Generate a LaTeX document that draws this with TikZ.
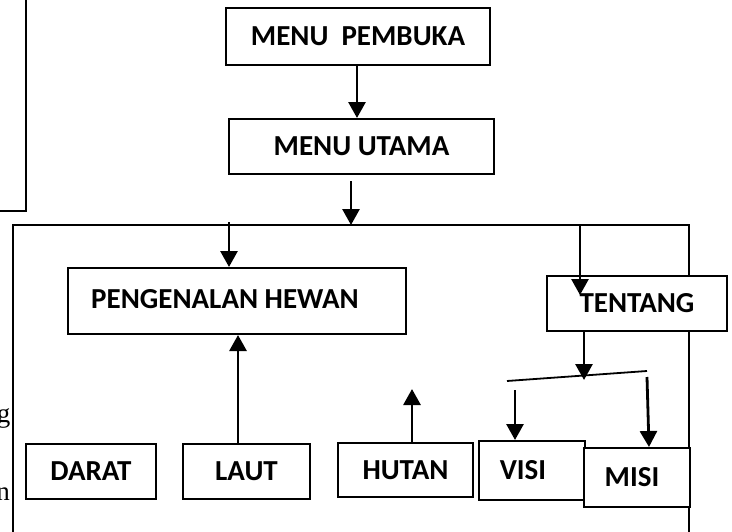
\documentclass[tikz,border=0pt]{standalone}
\usepackage{fontspec}
\setmainfont{Carlito}
\newfontfamily\serifstray{Liberation Serif}
\usetikzlibrary{arrows.meta}
\begin{document}
\begin{tikzpicture}[x=1pt,y=-1pt,
  box/.style={draw, line width=2pt, fill=white, inner sep=0pt,
    font=\fontsize{29}{32}\selectfont\bfseries},
  arr/.style={line width=2.8pt, -{Triangle[width=17pt,length=16pt]}},
  frameline/.style={line width=1.5pt},
  stray/.style={font=\serifstray\fontsize{27}{30}\selectfont, inner sep=0pt}]
\useasboundingbox (0,0) rectangle (732,531);
% frames
\draw[frameline] (0,211) -- (26,211) -- (26,-2);
\draw[frameline] (13,533) -- (13,225) -- (689,225) -- (689,533);
% boxes
\node[box, minimum width=264pt, minimum height=57pt] (mp) at (358,36.5) {MENU\ \ PEMBUKA};
\node[box, minimum width=265pt, minimum height=55pt] (mu) at (361.5,146.5) {MENU UTAMA};
\node[box, minimum width=338pt, minimum height=66pt] (ph) at (237,301) {\raisebox{4pt}{PENGENALAN HEWAN\hspace*{24pt}}};
\node[box, minimum width=180pt, minimum height=55pt] (te) at (637,303.5) {TENTANG};
\node[box, minimum width=130pt, minimum height=55pt] (da) at (91,471.5) {DARAT};
\node[box, minimum width=127pt, minimum height=55pt] (la) at (246.5,471.5) {LAUT};
\node[box, minimum width=135pt, minimum height=54pt] (hu) at (405.5,470) {HUTAN};
\node[box, minimum width=106pt, minimum height=59pt] (vi) at (532,470.5) {VISI\hspace*{18pt}};
\node[box, minimum width=106pt, minimum height=59pt] (mi) at (637,477.5) {MISI\hspace*{10pt}};
% stray letters at left edge
\node[stray, anchor=base east] (sg) at (10.5,422) {g};
\node[stray, anchor=base east] (sn) at (10,500) {n};
% coordinates
\coordinate (f1) at (351,225);
\coordinate (f2) at (229,222);
\coordinate (f3) at (580,225);
\coordinate (u1) at (351,181);
\coordinate (t1) at (580,295);
\coordinate (sl) at (507,381);
\coordinate (sr) at (647,371);
\coordinate (sm) at (584,380);
\coordinate (v1) at (515,390);
\coordinate (m1) at (647,377);
\coordinate (h1) at (412,389);
% connectors
\draw[arr] (mp.south -| 357,0) -- (mu.north -| 357,0);
\draw[arr] (u1) -- (f1);
\draw[arr] (f2) -- (ph.north -| f2);
\draw[arr] (f3) -- (t1);
\draw[arr] (te.south -| sm) -- (sm);
\draw[line width=1.8pt] (sl) -- (sr);
\draw[arr] (v1) -- (vi.north -| v1);
\draw[arr] (m1) -- ([xshift=2pt]mi.north -| m1);
\draw[arr] (la.north -| 238,0) -- (ph.south -| 238,0);
\draw[arr] (hu.north -| 412,0) -- (h1);
\end{tikzpicture}
\end{document}
